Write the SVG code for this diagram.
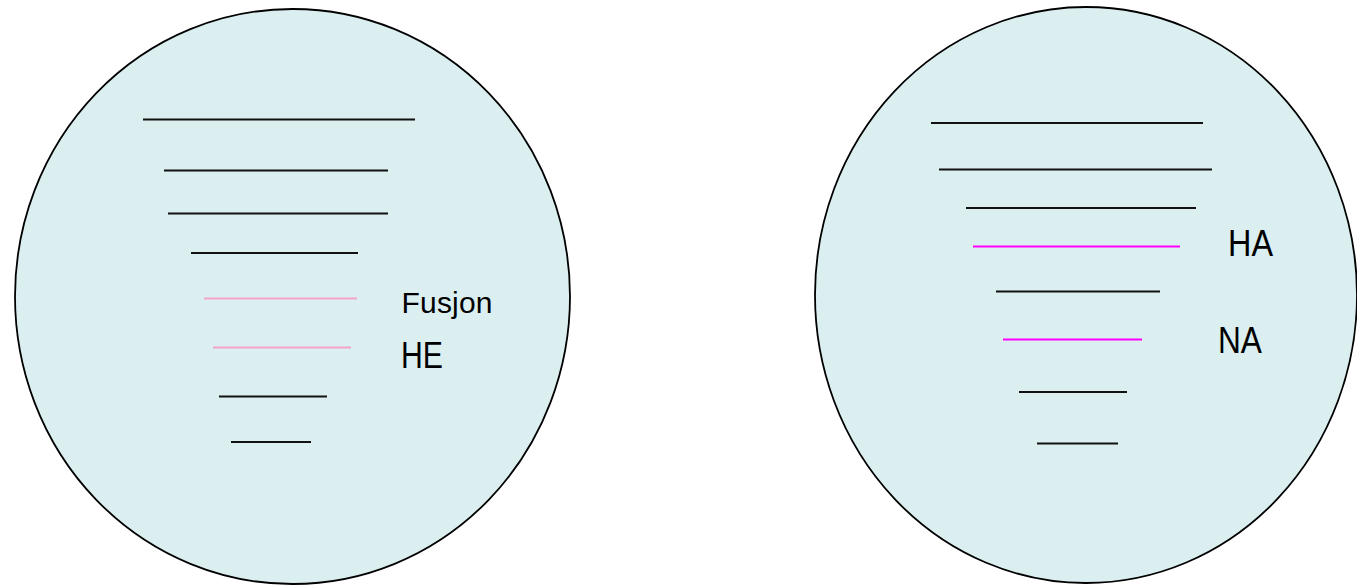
<svg xmlns="http://www.w3.org/2000/svg" width="1357" height="585" viewBox="0 0 1357 585">
<style>
.cell{fill:#DBEFF1;stroke:#000;stroke-width:1.8}
.k{stroke:#111;stroke-width:2}
.p{stroke:#F6A3C8;stroke-width:2}
.m{stroke:#FF00FF;stroke-width:2}
.t{font-family:"Liberation Sans",Arial,sans-serif;fill:#000}
</style>
<rect width="1357" height="585" fill="#fff"/>
<g id="left-cell">
<ellipse class="cell" cx="292.5" cy="296.5" rx="277.5" ry="287.5"/>
<line class="k" x1="143" y1="119.5" x2="415" y2="119.5"/>
<line class="k" x1="164" y1="170.5" x2="388" y2="170.5"/>
<line class="k" x1="168" y1="213.5" x2="388" y2="213.5"/>
<line class="k" x1="191" y1="253" x2="358" y2="253"/>
<line class="p" x1="204" y1="298.5" x2="357" y2="298.5"/>
<line class="p" x1="213" y1="347.5" x2="351" y2="347.5"/>
<line class="k" x1="219" y1="396.5" x2="327" y2="396.5"/>
<line class="k" x1="231" y1="442" x2="311" y2="442"/>
<text class="t" x="401.5" y="312.5" font-size="30" textLength="91" lengthAdjust="spacing">Fusjon</text>
<text class="t" x="401" y="368" font-size="37" textLength="42" lengthAdjust="spacingAndGlyphs">HE</text>
</g>
<g id="right-cell">
<ellipse class="cell" cx="1086" cy="295" rx="271" ry="288"/>
<line class="k" x1="931" y1="123" x2="1203" y2="123"/>
<line class="k" x1="939" y1="169.5" x2="1212" y2="169.5"/>
<line class="k" x1="966" y1="208" x2="1196" y2="208"/>
<line class="m" x1="973" y1="246.5" x2="1180" y2="246.5"/>
<line class="k" x1="996" y1="291.5" x2="1160" y2="291.5"/>
<line class="m" x1="1003" y1="339.5" x2="1142" y2="339.5"/>
<line class="k" x1="1019" y1="392" x2="1127" y2="392"/>
<line class="k" x1="1037" y1="443.5" x2="1118" y2="443.5"/>
<text class="t" x="1228" y="256" font-size="36" textLength="45" lengthAdjust="spacingAndGlyphs">HA</text>
<text class="t" x="1218" y="353" font-size="37" textLength="44" lengthAdjust="spacingAndGlyphs">NA</text>
</g>
<g id="connectors"/>
</svg>
